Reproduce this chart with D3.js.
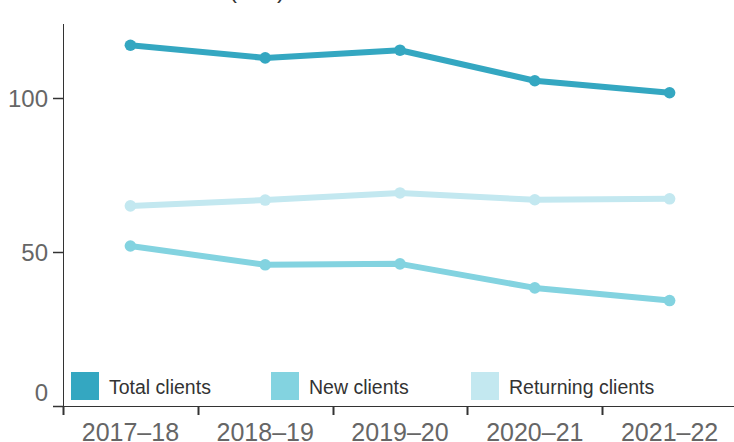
<!DOCTYPE html>
<html>
<head>
<meta charset="utf-8">
<script src="https://cdn.jsdelivr.net/npm/d3@7"></script>
<style>
  body { margin: 0; background: #fff; }
  svg { display: block; font-family: "Liberation Sans", Arial, sans-serif; }
</style>
</head>
<body>
<div id="chart"></div>
<script>
const years = ["2017–18", "2018–19", "2019–20", "2020–21", "2021–22"];
const totalClients = [117.1, 113.0, 115.5, 105.6, 101.7];
const newClients = [52.0, 45.9, 46.2, 38.4, 34.3];
const returningClients = [65.0, 66.9, 69.2, 67.0, 67.3];
const yTicks = [0, 50, 100];

const series = [
  { name: "Total clients", values: totalClients, color: "#34a7c1" },
  { name: "New clients", values: newClients, color: "#83d3e0" },
  { name: "Returning clients", values: returningClients, color: "#c3e8f0" }
];

const width = 734, height = 442;

const svg = d3.select("#chart")
  .append("svg")
  .attr("width", width)
  .attr("height", height);

const x = d3.scaleBand()
  .domain(years)
  .range([63, 737]);

const y = d3.scaleLinear()
  .domain([0, 124])
  .range([406.3, 24]);

// title, mostly cut off at the top
svg.append("text")
  .attr("x", 285)
  .attr("y", -2)
  .attr("text-anchor", "end")
  .attr("font-size", 24)
  .attr("fill", "#333")
  .text("Number of clients (000)");

// y axis
svg.append("line")
  .attr("x1", 63.5).attr("x2", 63.5)
  .attr("y1", 24).attr("y2", 407)
  .attr("stroke", "#333");

const yt = svg.append("g");
yt.selectAll("line")
  .data(yTicks)
  .join("line")
  .attr("x1", 53).attr("x2", 63)
  .attr("y1", d => Math.round(y(d)) + 0.5)
  .attr("y2", d => Math.round(y(d)) + 0.5)
  .attr("stroke", "#333")
  .attr("stroke-width", 1.5);

yt.selectAll("text")
  .data(yTicks)
  .join("text")
  .attr("x", 48)
  .attr("y", d => y(d) - (d === 0 ? 14 : 0))
  .attr("dy", "0.36em")
  .attr("text-anchor", "end")
  .attr("font-size", 24)
  .attr("fill", "#666")
  .text(d => d);

// x axis
svg.append("line")
  .attr("x1", 53).attr("x2", width)
  .attr("y1", 406.5).attr("y2", 406.5)
  .attr("stroke", "#333");

const xt = svg.append("g");
xt.selectAll("line")
  .data(years)
  .join("line")
  .attr("x1", d => Math.round(x(d)) + 0.5)
  .attr("x2", d => Math.round(x(d)) + 0.5)
  .attr("y1", 406).attr("y2", 415)
  .attr("stroke", "#333")
  .attr("stroke-width", 2);

xt.selectAll("text")
  .data(years)
  .join("text")
  .attr("x", d => x(d) + x.bandwidth() / 2)
  .attr("y", 441)
  .attr("text-anchor", "middle")
  .attr("font-size", 25)
  .attr("fill", "#666")
  .text(d => d);

// lines, drawn back to front
const line = d3.line()
  .x((d, i) => x(years[i]) + x.bandwidth() / 2)
  .y(d => y(d));

const drawOrder = [series[2], series[1], series[0]];

for (let s of drawOrder) {
  svg.append("path")
    .datum(s.values)
    .attr("fill", "none")
    .attr("stroke", s.color)
    .attr("stroke-width", 6)
    .attr("stroke-linejoin", "round")
    .attr("d", line);

  svg.append("g")
    .selectAll("circle")
    .data(s.values)
    .join("circle")
    .attr("cx", (d, i) => x(years[i]) + x.bandwidth() / 2)
    .attr("cy", d => y(d))
    .attr("r", 5.8)
    .attr("fill", s.color);
}

// legend
const legend = svg.append("g")
  .selectAll("g")
  .data(series)
  .join("g")
  .attr("transform", (d, i) => `translate(${71 + i * 200},372)`);

legend.append("rect")
  .attr("width", 28)
  .attr("height", 28)
  .attr("fill", d => d.color);

legend.append("text")
  .attr("x", 38)
  .attr("y", 22)
  .attr("font-size", 19.5)
  .attr("fill", "#333")
  .text(d => d.name);
</script>
</body>
</html>
